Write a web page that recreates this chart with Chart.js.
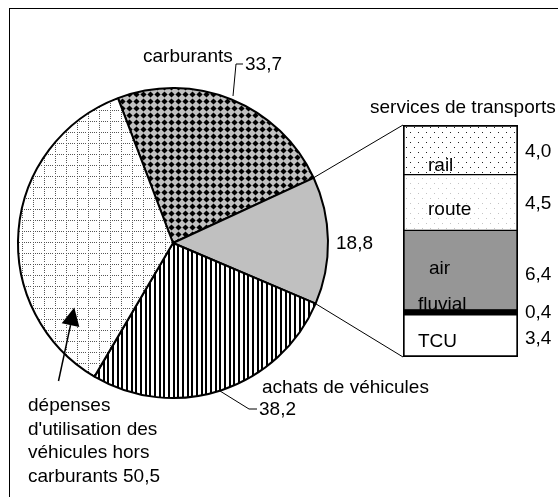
<!DOCTYPE html>
<html><head><meta charset="utf-8">
<script src="https://cdn.jsdelivr.net/npm/chart.js@4/dist/chart.umd.min.js"></script>
<style>
html,body{margin:0;padding:0;background:#fff;overflow:hidden}
#wrap{position:relative;width:558px;height:497px;overflow:hidden}
canvas{position:absolute;left:0;top:0}
#frame{position:absolute;left:9px;top:8px;width:700px;height:700px;border-left:1px solid #000;border-top:1px solid #000}
</style></head><body>
<div id="wrap"><div id="frame"></div>
<canvas id="pie" width="558" height="497"></canvas>
<canvas id="bar" width="558" height="497"></canvas></div>
<script>
// ---- data ----
const pieCategories = ['carburants', 'services de transports', 'achats de véhicules', "dépenses d'utilisation des véhicules hors carburants"];
const pieValues = [33.7, 18.8, 38.2, 50.5];
const pieValueLabels = ['33,7', '18,8', '38,2', '50,5'];
const transportModes = ['TCU', 'fluvial', 'air', 'route', 'rail'];   // bottom to top
const transportValues = [3.4, 0.4, 6.4, 4.5, 4.0];
const transportValueLabels = ['3,4', '0,4', '6,4', '4,5', '4,0'];

const FONT = '19px "Liberation Sans", Arial, sans-serif';

function makePattern(ctx, w, h, draw) {
  const c = document.createElement('canvas'); c.width = w; c.height = h;
  const g = c.getContext('2d'); draw(g);
  return ctx.createPattern(c, 'repeat');
}

const pieCtx = document.getElementById('pie').getContext('2d');
const barCtx = document.getElementById('bar').getContext('2d');

const diamondPat = makePattern(pieCtx, 7, 7, g => {
  g.fillStyle = '#c0c0c0'; g.fillRect(0, 0, 7, 7);
  g.fillStyle = '#000'; g.beginPath();
  g.moveTo(3.5, 0.4); g.lineTo(6.6, 3.5); g.lineTo(3.5, 6.6); g.lineTo(0.4, 3.5); g.closePath(); g.fill();
});
const vlinePat = makePattern(pieCtx, 14, 4, g => {
  g.fillStyle = '#fff'; g.fillRect(0, 0, 14, 4);
  g.fillStyle = '#000'; [0, 5, 9].forEach(x => g.fillRect(x, 0, 2, 4));
});
const gridPat = makePattern(pieCtx, 11, 11, g => {
  g.fillStyle = '#fff'; g.fillRect(0, 0, 11, 11);
  g.fillStyle = '#555';
  for (let i = 0; i < 10; i += 2) { g.fillRect(i, 0, 1, 1); g.fillRect(0, i, 1, 1); }
});
const railPat = makePattern(barCtx, 8, 10, g => {
  g.fillStyle = '#fff'; g.fillRect(0, 0, 8, 10);
  g.fillStyle = '#222'; g.fillRect(2, 2, 1, 1); g.fillRect(6, 7, 1, 1);
});
const routePat = makePattern(barCtx, 8, 10, g => {
  g.fillStyle = '#fff'; g.fillRect(0, 0, 8, 10);
  g.fillStyle = '#c4c4c4'; g.fillRect(2, 3, 1, 1); g.fillRect(6, 8, 1, 1);
});

function txt(ctx, s, x, y, align) {
  ctx.save(); ctx.font = FONT; ctx.fillStyle = '#000'; ctx.textAlign = align || 'left';
  ctx.textBaseline = 'alphabetic'; ctx.fillText(s, x, y); ctx.restore();
}
function poly(ctx, pts, w) {
  ctx.save(); ctx.strokeStyle = '#000'; ctx.lineWidth = w || 1; ctx.beginPath();
  pts.forEach((p, i) => i ? ctx.lineTo(p[0], p[1]) : ctx.moveTo(p[0], p[1])); ctx.stroke(); ctx.restore();
}

const pieLabels = {
  id: 'pieLabels',
  afterDraw(chart) {
    const ctx = chart.ctx;
    // carburants
    txt(ctx, pieCategories[0], 143, 62);
    txt(ctx, pieValueLabels[0], 245, 70);
    poly(ctx, [[233, 96], [236, 64], [243, 64]], 1);
    // services
    txt(ctx, pieValueLabels[1], 336, 249);
    // achats
    txt(ctx, pieCategories[2], 262, 393);
    txt(ctx, pieValueLabels[2], 259, 415);
    poly(ctx, [[220, 391], [249, 409], [257, 409]], 1);
    // dépenses (multi-line)
    const lines = ['dépenses', "d'utilisation des", 'véhicules hors', 'carburants ' + pieValueLabels[3]];
    lines.forEach((l, i) => txt(ctx, l, 28, 411 + i * 23.7));
    // arrow
    const x0 = 58.5, y0 = 381, x1 = 74.3, y1 = 307.5;
    const ang = Math.atan2(y1 - y0, x1 - x0), hl = 18, hw = 9;
    const bx = x1 - hl * Math.cos(ang), by = y1 - hl * Math.sin(ang);
    poly(ctx, [[x0, y0], [bx, by]], 1.5);
    ctx.save(); ctx.fillStyle = '#000'; ctx.beginPath(); ctx.moveTo(x1, y1);
    ctx.lineTo(bx + hw * Math.sin(ang), by - hw * Math.cos(ang));
    ctx.lineTo(bx - hw * Math.sin(ang), by + hw * Math.cos(ang)); ctx.closePath(); ctx.fill(); ctx.restore();
  }
};

const pieChart = new Chart(pieCtx, {
  type: 'pie',
  data: {
    labels: pieCategories,
    datasets: [{
      data: pieValues,
      backgroundColor: [diamondPat, '#c0c0c0', vlinePat, gridPat],
      borderColor: '#000', borderWidth: 2, hoverOffset: 0
    }]
  },
  options: {
    responsive: false, animation: false, events: [], devicePixelRatio: 1,
    rotation: -20.8, radius: 155,
    layout: { padding: { left: 0, right: 212, top: 0, bottom: 11 } },
    plugins: { legend: { display: false }, tooltip: { enabled: false }, title: { display: false } }
  },
  plugins: [pieLabels]
});

const barPatterns = [ '#ffffff', '#000000', '#969696', routePat, railPat ];
const innerOffsets = [[15, 10], [15, 5], [26, 36], [25, 15], [25, 4]];  // [dx from left, dy above segment bottom]
const valueNudge = [8, 6, 10, 6, 7];

const barLabels = {
  id: 'barLabels',
  afterDatasetsDraw(chart) {
    const ctx = chart.ctx;
    const fluvialTop = chart.getDatasetMeta(1).data[0].y;
    transportModes.forEach((m, i) => {
      const el = chart.getDatasetMeta(i).data[0];
      const left = el.x - el.width / 2, right = el.x + el.width / 2;
      const top = el.y, bottom = el.base;
      const [dx, dy] = innerOffsets[i];
      if (m === 'fluvial') {
        ctx.save(); ctx.beginPath(); ctx.rect(0, 0, chart.width, fluvialTop); ctx.clip();
        txt(ctx, m, left + dx, bottom - dy); ctx.restore();
      } else {
        txt(ctx, m, left + dx, bottom - dy);
      }
      txt(ctx, transportValueLabels[i], right + 7, (top + bottom) / 2 + valueNudge[i]);
    });
    const topEl = chart.getDatasetMeta(transportModes.length - 1).data[0];
    txt(ctx, pieCategories[1], 370, 113);
  },
  afterDraw(chart) {
    const ctx = chart.ctx;
    const arc = pieChart.getDatasetMeta(0).data[1];
    const r = arc.outerRadius;
    const topEl = chart.getDatasetMeta(transportModes.length - 1).data[0];
    const botEl = chart.getDatasetMeta(0).data[0];
    const left = topEl.x - topEl.width / 2;
    poly(ctx, [[arc.x + r * Math.cos(arc.startAngle), arc.y + r * Math.sin(arc.startAngle)], [left, topEl.y]], 1);
    poly(ctx, [[arc.x + r * Math.cos(arc.endAngle), arc.y + r * Math.sin(arc.endAngle)], [left, botEl.base]], 1);
  }
};

const total = transportValues.reduce((a, b) => a + b, 0);
const n = transportModes.length;
new Chart(barCtx, {
  type: 'bar',
  data: {
    labels: [pieCategories[1]],
    datasets: transportModes.map((m, i) => ({
      label: m,
      data: [transportValues[i]],
      backgroundColor: barPatterns[i],
      borderColor: '#000',
      borderWidth: { top: i === n - 1 ? 2 : 1, bottom: i === 0 ? 2 : 1, left: 2, right: 2 },
      borderSkipped: false,
      barPercentage: 1, categoryPercentage: 1, stack: 's'
    }))
  },
  options: {
    responsive: false, animation: false, events: [], devicePixelRatio: 1,
    layout: { padding: { left: 403, right: 40, top: 125, bottom: 140 } },
    scales: {
      x: { stacked: true, display: false },
      y: { stacked: true, display: false, min: 0, max: total }
    },
    plugins: { legend: { display: false }, tooltip: { enabled: false }, title: { display: false } }
  },
  plugins: [barLabels]
});
</script>
</body></html>
